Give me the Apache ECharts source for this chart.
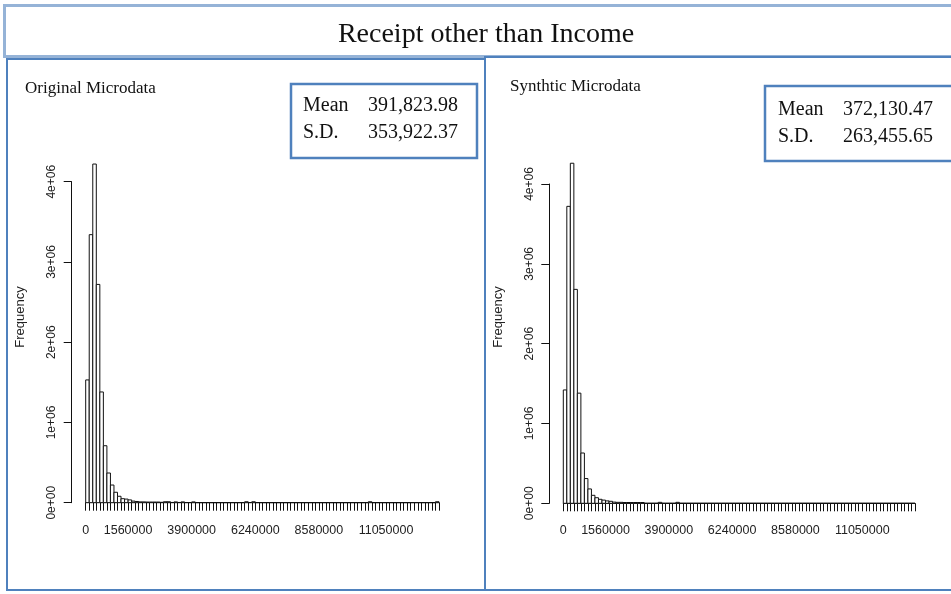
<!DOCTYPE html>
<html>
<head>
<meta charset="utf-8">
<script src="https://cdn.jsdelivr.net/npm/echarts@6/dist/echarts.min.js"></script>
<style>
  html, body { margin: 0; padding: 0; background: #fff; }
  #chart { width: 951px; height: 594px; }
</style>
</head>
<body>
<div id="chart"></div>
<script>
// Histogram of "Receipt other than Income": 100 bins of width 130,000
const chartTitle = 'Receipt other than Income';
const panelTitles = ['Original Microdata', 'Synthtic Microdata'];
const binWidth = 130000;

// Frequencies per bin, original microdata
const originalCounts = [
  1530000, 3340000, 4220000, 2720000, 1380000, 710000, 370000, 220000, 130000, 80000,
  50000, 45000, 35000, 20000, 15000, 10000, 10000, 8000, 8000, 8000,
  8000, 5000, 12000, 12000, 3000, 10000, 3000, 10000, 2000, 2000,
  10000, 1000, 1000, 1000, 1000, 1000, 1000, 1000, 1000, 1000,
  1000, 1000, 1000, 1000, 1000, 12000, 2000, 12000, 1000, 1000,
  1000, 1000, 1000, 1000, 1000, 1000, 1000, 1000, 1000, 1000,
  1000, 1000, 1000, 1000, 1000, 1000, 1000, 1000, 1000, 1000,
  1000, 1000, 1000, 1000, 1000, 1000, 1000, 1000, 1000, 1000,
  12000, 1000, 1000, 1000, 1000, 1000, 1000, 1000, 1000, 1000,
  1000, 1000, 1000, 1000, 1000, 1000, 1000, 1000, 1000, 12000
];

// Frequencies per bin, synthetic microdata
const syntheticCounts = [
  1420000, 3720000, 4260000, 2680000, 1380000, 630000, 310000, 180000, 100000, 70000,
  50000, 40000, 30000, 25000, 15000, 12000, 12000, 10000, 10000, 10000,
  10000, 10000, 10000, 1000, 1000, 1000, 1000, 12000, 1000, 1000,
  1000, 1000, 12000, 1000, 1000, 1000, 1000, 1000, 1000, 1000,
  1000, 1000, 1000, 1000, 1000, 1000, 1000, 1000, 1000, 1000,
  1000, 1000, 1000, 1000, 1000, 1000, 1000, 1000, 1000, 1000,
  1000, 1000, 1000, 1000, 1000, 1000, 1000, 1000, 1000, 1000,
  1000, 1000, 1000, 1000, 1000, 1000, 1000, 1000, 1000, 1000,
  1000, 1000, 1000, 1000, 1000, 1000, 1000, 1000, 1000, 1000,
  1000, 1000, 1000, 1000, 1000, 1000, 1000, 1000, 1000, 1000
];

// Bin boundaries that carry a printed label
const xLabelValues = [0, 1560000, 3900000, 6240000, 8580000, 11050000];
const yTickLabels = ['0e+00', '1e+06', '2e+06', '3e+06', '4e+06'];
const yTickStep = 1000000;

// Summary statistics per panel
const statNames = ['Mean', 'S.D.'];
const originalStats = ['391,823.98', '353,922.37'];
const syntheticStats = ['372,130.47', '263,455.65'];

const sansFont = 'Liberation Sans, Arial, sans-serif';
const serifFont = 'Liberation Serif, Times New Roman, serif';
const frameBlue = '#4f81bd';
const lightBlue = '#95b3d7';

function toBins(counts) {
  return counts.map((c, i) => [i * binWidth, (i + 1) * binWidth, c]);
}

function renderBar(params, api) {
  const p0 = api.coord([api.value(0), 0]);
  const p1 = api.coord([api.value(1), api.value(2)]);
  return {
    type: 'rect',
    shape: { x: p0[0], y: p1[1], width: p1[0] - p0[0], height: p0[1] - p1[1] },
    style: { fill: '#fff', stroke: '#111', lineWidth: 1 }
  };
}

function xAxisFor(gridIndex) {
  return {
    type: 'value', gridIndex: gridIndex,
    min: 0, max: binWidth * originalCounts.length, interval: binWidth,
    splitLine: { show: false },
    axisLine: { show: true, onZero: false, lineStyle: { color: '#111', width: 1 } },
    axisTick: { show: true, length: 8, lineStyle: { color: '#111', width: 1 } },
    axisLabel: {
      margin: 21, fontFamily: sansFont, fontSize: 12.5, color: '#222',
      showMinLabel: true, showMaxLabel: true, hideOverlap: false,
      formatter: v => (xLabelValues.indexOf(Math.round(v)) >= 0 ? String(Math.round(v)) : '')
    }
  };
}

function yAxisFor(gridIndex) {
  return {
    type: 'value', gridIndex: gridIndex,
    min: 0, max: yTickStep * (yTickLabels.length - 1), interval: yTickStep,
    offset: 14,
    splitLine: { show: false },
    axisLine: { show: true, onZero: false, lineStyle: { color: '#111', width: 1 } },
    axisTick: { show: true, length: 8, lineStyle: { color: '#111', width: 1 } },
    axisLabel: {
      rotate: 90, margin: 14, fontFamily: sansFont, fontSize: 12, color: '#222',
      formatter: v => yTickLabels[Math.round(v / yTickStep)]
    }
  };
}

function statsText(x, y, rowGap, rightX, values) {
  const out = [];
  statNames.forEach((name, i) => {
    out.push({ type: 'text', x: x, y: y + i * rowGap,
      style: { text: name, font: '20px ' + serifFont, fill: '#111', textVerticalAlign: 'middle' } });
    out.push({ type: 'text', x: rightX, y: y + i * rowGap,
      style: { text: values[i], font: '20px ' + serifFont, fill: '#111', textAlign: 'right', textVerticalAlign: 'middle' } });
  });
  return out;
}

const chart = echarts.init(document.getElementById('chart'), null, { renderer: 'canvas' });

const graphics = [
  // title strip
  { type: 'rect', shape: { x: 4.5, y: 5.5, width: 960, height: 51 },
    style: { fill: 'none', stroke: lightBlue, lineWidth: 3 }, z: 0 },
  { type: 'text', x: 486, y: 35,
    style: { text: chartTitle, font: '28px ' + serifFont, fill: '#111', textAlign: 'center', textVerticalAlign: 'middle' } },
  // panel frames
  { type: 'rect', shape: { x: 7, y: 59, width: 478, height: 531 },
    style: { fill: 'none', stroke: frameBlue, lineWidth: 2 } },
  { type: 'rect', shape: { x: 485, y: 57, width: 480, height: 533 },
    style: { fill: 'none', stroke: frameBlue, lineWidth: 2 } },
  // panel titles
  { type: 'text', x: 25, y: 89,
    style: { text: panelTitles[0], font: '17px ' + serifFont, fill: '#111', textVerticalAlign: 'middle' } },
  { type: 'text', x: 510, y: 87,
    style: { text: panelTitles[1], font: '17px ' + serifFont, fill: '#111', textVerticalAlign: 'middle' } },
  // statistics boxes
  { type: 'rect', shape: { x: 291, y: 84, width: 186, height: 74 },
    style: { fill: '#fff', stroke: frameBlue, lineWidth: 2.5 } },
  { type: 'rect', shape: { x: 765, y: 86, width: 200, height: 75 },
    style: { fill: '#fff', stroke: frameBlue, lineWidth: 2.5 } },
  ...statsText(303, 106, 27, 458, originalStats),
  ...statsText(778, 110, 27, 933, syntheticStats),
  // y axis names
  { type: 'text', x: 20, y: 317, rotation: Math.PI / 2,
    style: { text: 'Frequency', font: '13px ' + sansFont, fill: '#222', textAlign: 'center', textVerticalAlign: 'middle' } },
  { type: 'text', x: 498, y: 317, rotation: Math.PI / 2,
    style: { text: 'Frequency', font: '13px ' + sansFont, fill: '#222', textAlign: 'center', textVerticalAlign: 'middle' } }
];

chart.setOption({
  animation: false,
  backgroundColor: '#fff',
  grid: [
    { left: 85.7, top: 181.7, width: 353.3, height: 321 },
    { left: 563.3, top: 184, width: 351.7, height: 319.3 }
  ],
  xAxis: [xAxisFor(0), xAxisFor(1)],
  yAxis: [yAxisFor(0), yAxisFor(1)],
  series: [
    { type: 'custom', xAxisIndex: 0, yAxisIndex: 0, renderItem: renderBar,
      encode: { x: [0, 1], y: 2 }, data: toBins(originalCounts), clip: false },
    { type: 'custom', xAxisIndex: 1, yAxisIndex: 1, renderItem: renderBar,
      encode: { x: [0, 1], y: 2 }, data: toBins(syntheticCounts), clip: false }
  ],
  graphic: graphics
});
</script>
</body>
</html>
